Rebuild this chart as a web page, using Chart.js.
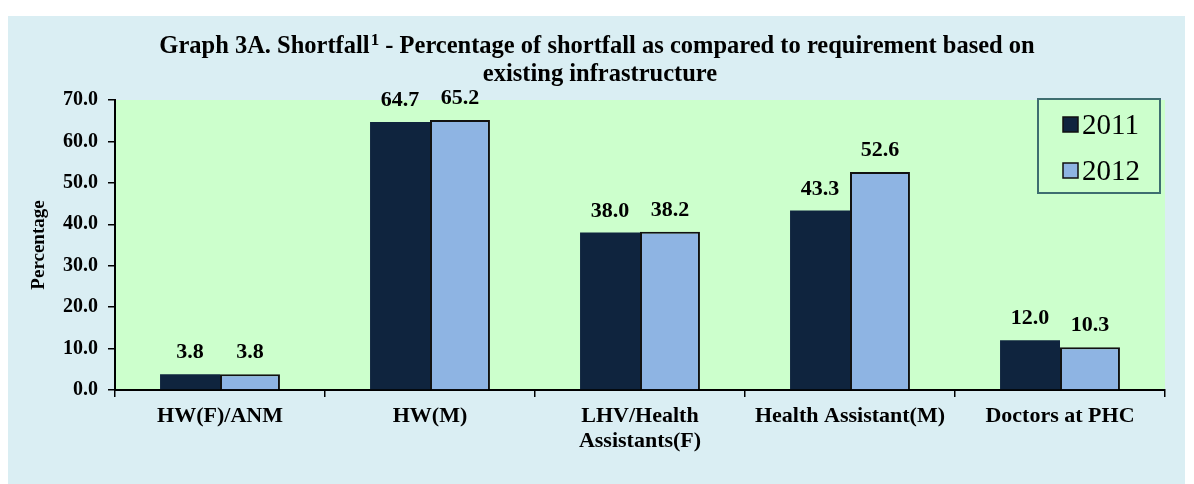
<!DOCTYPE html>
<html>
<head>
<meta charset="utf-8">
<script src="https://cdn.jsdelivr.net/npm/chart.js@4.4.1/dist/chart.umd.min.js"></script>
<style>
  html, body { margin: 0; padding: 0; background: #ffffff; }
  #wrap { position: relative; width: 1194px; height: 484px; }
  canvas { display: block; }
</style>
</head>
<body>
<div id="wrap"><canvas id="c" width="1194" height="484"></canvas></div>
<script>
// ---- data ----
const categories = [['HW(F)/ANM'], ['HW(M)'], ['LHV/Health', 'Assistants(F)'], ['Health Assistant(M)'], ['Doctors at PHC']];
const seriesNames = ['2011', '2012'];
const values2011 = [3.8, 64.7, 38.0, 43.3, 12.0];
const values2012 = [3.8, 65.2, 38.2, 52.6, 10.3];
const yMin = 0, yMax = 70, yStep = 10;
const titleParts = ['Graph 3A. Shortfall', '1', ' - Percentage of shortfall as compared to requirement based on'];
const titleLine2 = 'existing infrastructure';
const yAxisTitle = 'Percentage';

// ---- style ----
const SERIF = '"Liberation Serif", "Times New Roman", serif';
const COL2011 = '#0f243e';
const COL2012 = '#8eb4e3';
const PANEL = '#daeef3';
const PLOT = '#ccffcc';

const bgPlugin = {
  id: 'bg',
  beforeDraw(chart) {
    const ctx = chart.ctx, a = chart.chartArea;
    ctx.save();
    ctx.fillStyle = '#ffffff';
    ctx.fillRect(0, 0, chart.width, chart.height);
    ctx.fillStyle = PANEL;
    ctx.fillRect(8, 16, 1177, 468);
    ctx.fillStyle = PLOT;
    ctx.fillRect(a.left, a.top, a.right - a.left, a.bottom - a.top);
    // title
    ctx.fillStyle = '#000';
    ctx.textBaseline = 'alphabetic';
    const mainFont = 'bold 24.5px ' + SERIF;
    const supFont = 'bold 17px ' + SERIF;
    ctx.font = mainFont;
    const w0 = ctx.measureText(titleParts[0]).width;
    const w2 = ctx.measureText(titleParts[2]).width;
    ctx.font = supFont;
    const w1 = ctx.measureText(titleParts[1]).width + 1;
    const total = w0 + w1 + w2;
    let x = 597 - total / 2;
    const y1 = 53;
    ctx.textAlign = 'left';
    ctx.font = mainFont;
    ctx.fillText(titleParts[0], x, y1); x += w0;
    ctx.font = supFont;
    ctx.fillText(titleParts[1], x + 1, y1 - 8); x += w1;
    ctx.font = mainFont;
    ctx.fillText(titleParts[2], x, y1);
    ctx.textAlign = 'center';
    ctx.fillText(titleLine2, 600, 81);
    ctx.restore();
  },
  afterDatasetsDraw(chart) {
    const ctx = chart.ctx;
    ctx.save();
    ctx.fillStyle = '#000';
    ctx.font = 'bold 22px ' + SERIF;
    ctx.textAlign = 'center';
    ctx.textBaseline = 'alphabetic';
    chart.data.datasets.forEach((ds, i) => {
      chart.getDatasetMeta(i).data.forEach((bar, j) => {
        ctx.fillText(ds.data[j].toFixed(1), bar.x, bar.y - 16);
      });
    });
    ctx.restore();
  },
  afterDraw(chart) {
    const ctx = chart.ctx;
    ctx.save();
    // legend box
    ctx.fillStyle = PLOT;
    ctx.fillRect(1038, 99, 122, 94);
    ctx.strokeStyle = '#3e6e70';
    ctx.lineWidth = 2;
    ctx.strokeRect(1038, 99, 122, 94);
    const rows = [125, 171];
    chart.data.datasets.forEach((ds, i) => {
      const cy = rows[i];
      ctx.fillStyle = ds.backgroundColor;
      ctx.fillRect(1063, cy - 8, 15, 15);
      ctx.strokeStyle = '#111';
      ctx.lineWidth = 1.5;
      ctx.strokeRect(1063, cy - 8, 15, 15);
      ctx.fillStyle = '#000';
      ctx.font = '29px ' + SERIF;
      ctx.textAlign = 'left';
      ctx.textBaseline = 'middle';
      ctx.fillText(ds.label, 1082, cy + 1);
    });
    ctx.restore();
  }
};

new Chart(document.getElementById('c'), {
  type: 'bar',
  data: {
    labels: categories,
    datasets: [
      { label: seriesNames[0], data: values2011, backgroundColor: COL2011, borderColor: COL2011, borderWidth: 0,
        categoryPercentage: 0.571, barPercentage: 1.0 },
      { label: seriesNames[1], data: values2012, backgroundColor: COL2012, borderColor: '#111111', borderWidth: 2,
        categoryPercentage: 0.571, barPercentage: 1.0 }
    ]
  },
  options: {
    responsive: false,
    animation: false,
    layout: { padding: { left: 28, right: 29, top: 100, bottom: 0 } },
    plugins: {
      legend: { display: false },
      title: { display: false },
      tooltip: { enabled: false }
    },
    scales: {
      x: {
        offset: true,
        grid: { offset: true, drawOnChartArea: false, drawTicks: true, tickLength: 7, color: '#000', lineWidth: 1.5 },
        border: { display: true, color: '#000', width: 2 },
        ticks: { color: '#000', font: { family: SERIF, size: 22, weight: 'bold', lineHeight: 1.14 }, padding: 7, maxRotation: 0, autoSkip: false },
        afterFit(scale) { scale.height = 94; }
      },
      y: {
        min: yMin, max: yMax,
        grid: { drawOnChartArea: false, drawTicks: true, tickLength: 7, color: '#000', lineWidth: 1.5 },
        border: { display: true, color: '#000', width: 2 },
        ticks: { stepSize: yStep, color: '#000', font: { family: SERIF, size: 20, weight: 'bold' }, padding: 10,
                 callback: v => Number(v).toFixed(1) },
        title: { display: true, text: yAxisTitle, color: '#000', font: { family: SERIF, size: 19, weight: 'bold' }, padding: { top: 0, bottom: 0 } },
        afterFit(scale) { scale.width = 87; }
      }
    }
  },
  plugins: [bgPlugin]
});
</script>
</body>
</html>
